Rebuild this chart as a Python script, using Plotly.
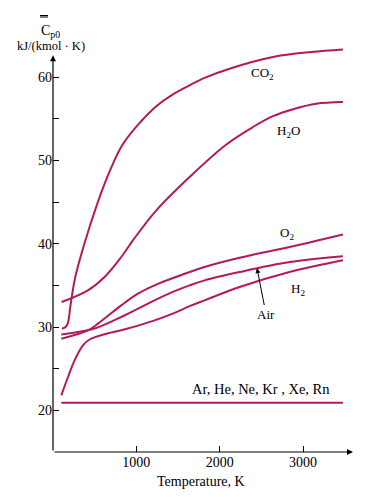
import plotly.graph_objects as go

# Data (T in K, Cp in kJ/(kmol K))
co2_T = [107, 150, 179, 210, 259, 319, 439, 620, 830, 1050, 1240, 1420, 1639, 1819, 2119, 2639, 3100, 3479]
co2_cp = [29.8, 30.0, 30.5, 32.6, 35.6, 38.0, 42.0, 47.2, 51.8, 54.6, 56.5, 57.8, 59.0, 59.9, 61.0, 62.4, 63.0, 63.3]

h2o_T = [103, 419, 619, 819, 959, 1240, 1639, 2080, 2400, 2639, 2900, 3159, 3479]
h2o_cp = [33.0, 34.4, 36.0, 38.4, 40.4, 44.0, 48.0, 51.9, 54.0, 55.3, 56.2, 56.8, 57.0]

o2_T = [100, 419, 539, 819, 1019, 1219, 1639, 1819, 2239, 2839, 3479]
o2_cp = [28.6, 29.6, 30.4, 32.6, 34.0, 35.0, 36.6, 37.2, 38.3, 39.6, 41.1]

air_T = [100, 419, 539, 819, 1219, 1459, 1639, 1819, 2239, 2839, 3479]
air_cp = [29.1, 29.6, 29.95, 31.2, 33.2, 34.3, 35.0, 35.6, 36.6, 37.8, 38.5]

h2_T = [100, 180, 259, 359, 439, 640, 819, 1219, 1459, 1639, 1819, 2239, 2839, 3479]
h2_cp = [21.8, 24.0, 26.0, 27.8, 28.5, 29.2, 29.6, 30.8, 31.7, 32.5, 33.2, 34.8, 36.6, 38.0]

ar_T = [100, 3479]
ar_cp = [20.9, 20.9]

x_ticks = [1000, 2000, 3000]
y_ticks = [20, 30, 40, 50, 60]
y_minor = [25, 35, 45, 55]

W, H = 370, 497
L, R, T_, B = 53, 12, 35, 45
PW, PH = W - L - R, H - T_ - B
XMAX = PW * 12.0
YMIN, YMAX = 15, 15 + PH / 8.333

def px(x):
    return (x - L) / PW

def py(y):
    return (H - B - y) / PH

COL = "#B3195C"
FONT = "Liberation Serif"

fig = go.Figure()
for tx, cy in [(co2_T, co2_cp), (h2o_T, h2o_cp), (o2_T, o2_cp),
               (air_T, air_cp), (h2_T, h2_cp), (ar_T, ar_cp)]:
    fig.add_trace(go.Scatter(x=tx, y=cy, mode="lines",
                             line=dict(color=COL, width=2, shape="spline", smoothing=1.0),
                             hoverinfo="skip", showlegend=False))

ann = []
def txt(s, x, y, size=13, **kw):
    ann.append(dict(text=s, x=px(x), y=py(y), xref="paper", yref="paper",
                    xanchor="center", yanchor="middle",
                    showarrow=False, font=dict(family=FONT, size=size, color="black"), **kw))

txt("CO<sub>2</sub>", 262, 74)
txt("H<sub>2</sub>O", 288, 131)
txt("O<sub>2</sub>", 287, 233)
txt("H<sub>2</sub>", 298, 289)
txt("Ar, He, Ne, Kr , Xe, Rn", 261, 389, size=14.5)
txt("C<sub>p0</sub>", 50, 31, size=14)
txt("kJ/(kmol · K)", 51, 46, size=12.5)
txt("Temperature, K", 201, 481, size=14)
# Air with arrow
ann.append(dict(text="Air", x=px(257), y=py(268), xref="paper", yref="paper",
                ax=9, ay=46, showarrow=True, arrowhead=2, arrowsize=1, arrowwidth=1,
                arrowcolor="black", font=dict(family=FONT, size=13, color="black")))
# axis arrows
ann.append(dict(text="", x=0, y=62.6, ax=0, ay=YMIN, xref="x", yref="y", axref="x", ayref="y",
                showarrow=True, arrowhead=2, arrowsize=1, arrowwidth=1.2, arrowcolor="black"))
ann.append(dict(text="", x=3600, y=YMIN, ax=0, ay=YMIN, xref="x", yref="y", axref="x", ayref="y",
                showarrow=True, arrowhead=2, arrowsize=1, arrowwidth=1.2, arrowcolor="black"))

fig.update_layout(
    width=W, height=H, margin=dict(l=L, r=R, t=T_, b=B),
    paper_bgcolor="white", plot_bgcolor="white",
    annotations=ann,
    shapes=[dict(type="line", xref="paper", yref="paper",
                 x0=px(40), x1=px(48), y0=py(17), y1=py(17),
                 line=dict(color="black", width=1)),
            dict(type="line", xref="paper", yref="paper",
                 x0=px(40), x1=px(48), y0=py(15.5), y1=py(15.5),
                 line=dict(color="black", width=1))],
    xaxis=dict(range=[0, XMAX], tickvals=x_ticks, ticktext=[str(v) for v in x_ticks],
               ticks="inside", ticklen=6, tickcolor="black", showgrid=False, zeroline=False,
               showline=False, tickfont=dict(family=FONT, size=14, color="black")),
    yaxis=dict(range=[YMIN, YMAX], tickvals=y_ticks, ticktext=[str(v) for v in y_ticks],
               ticks="inside", ticklen=6, tickcolor="black", showgrid=False, zeroline=False,
               showline=False, tickfont=dict(family=FONT, size=14, color="black"),
               minor=dict(tickvals=y_minor, ticks="inside", ticklen=6, tickcolor="black")),
)
fig.write_html("out.html")
